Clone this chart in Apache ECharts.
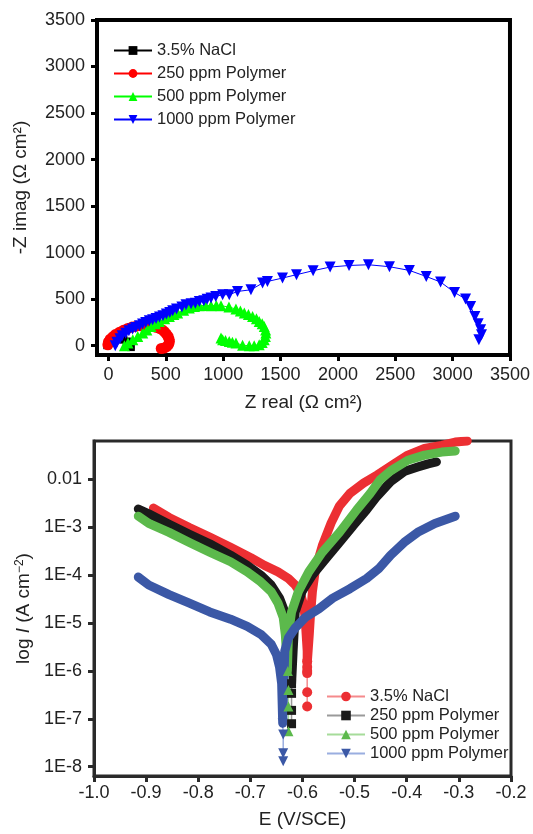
<!DOCTYPE html>
<html>
<head>
<meta charset="utf-8">
<script src="https://cdn.jsdelivr.net/npm/echarts@6/dist/echarts.min.js"></script>
<style>
body{margin:0;background:#fff;}
#mainA{width:533px;height:420px;}
#mainB{width:533px;height:414px;}
</style>
</head>
<body>
<div id="mainA"></div>
<div id="mainB"></div>
<script>
// Nyquist plot, [Z real, -Z imag] in ohm cm2
var nyqNacl = [[-10,5],[0,30],[20,55],[50,70],[90,75],[130,65],[160,45],[180,20],[190,0],[195,-15]];
var nyq250 = [[-5,10],[0,40],[15,70],[37,95],[60,120],[96,145],[130,165],[168,185],[205,200],[241,210],[280,215],[313,215],[350,212],[386,205],[415,198],[444,185],[470,170],[488,150],[505,125],[520,100],[528,70],[531,45],[525,15],[508,-10],[485,-25],[460,-30]];
var nyq500 = [[139,0],[170,30],[212,64],[255,100],[299,136],[335,170],[371,207],[410,235],[444,261],[490,290],[531,315],[570,335],[603,351],[655,380],[705,405],[750,420],[792,430],[845,432],[894,430],[940,432],[981,430],[1050,415],[1111,394],[1150,372],[1184,351],[1220,335],[1256,315],[1290,290],[1314,261],[1340,235],[1358,207],[1370,170],[1372,136],[1368,100],[1358,64],[1340,35],[1314,11],[1270,0],[1227,0],[1169,5],[1111,29],[1080,38],[1053,46],[1020,55],[995,64],[981,83]];
var nyq1000 = [[59,0],[74,36],[100,75],[119,107],[150,135],[178,161],[210,180],[237,196],[270,215],[297,232],[325,250],[356,268],[385,280],[415,293],[445,308],[475,321],[505,340],[534,357],[560,375],[593,393],[640,415],[676,440],[720,450],[757,457],[792,476],[831,482],[860,500],[894,512],[935,530],[995,548],[1053,548],[1125,583],[1242,601],[1343,673],[1386,690],[1517,727],[1639,763],[1784,806],[1932,845],[2097,862],[2266,870],[2449,849],[2623,809],[2770,744],[2895,684],[3017,572],[3113,502],[3157,422],[3194,315],[3223,236],[3244,172],[3252,118],[3229,64]];
var nyqTicks = [0,500,1000,1500,2000,2500,3000,3500];

// Tafel plot, [E (V/SCE), I (A cm-2)]
var tafNacl = [[-0.886,2.5e-3],[-0.856,1.6e-3],[-0.817,9.8e-4],[-0.778,6.2e-4],[-0.738,3.8e-4],[-0.699,2.3e-4],[-0.673,1.6e-4],[-0.647,1.17e-4],[-0.627,8.5e-5],[-0.614,6.2e-5],[-0.604,4.2e-5],[-0.598,2.4e-5],[-0.595,1.3e-5],[-0.593,5.8e-6],[-0.591,2.6e-6],[-0.591,1.4e-6],[-0.587,5.8e-6],[-0.585,1.3e-5],[-0.581,4.5e-5],[-0.575,1.35e-4],[-0.562,4.1e-4],[-0.545,1.23e-3],[-0.529,2.8e-3],[-0.509,5.1e-3],[-0.483,8.3e-3],[-0.457,1.23e-2],[-0.424,2.1e-2],[-0.398,3.2e-2],[-0.366,4.4e-2],[-0.333,5.1e-2],[-0.307,6.0e-2],[-0.284,6.3e-2]];
var tipNacl = [[-0.591,1.6e-6],[-0.591,1.2e-6],[-0.591,1.0e-6],[-0.591,9.0e-7],[-0.591,3.6e-7],[-0.591,1.8e-7]];
var taf250 = [[-0.915,2.4e-3],[-0.895,1.9e-3],[-0.856,1.15e-3],[-0.817,7.1e-4],[-0.778,4.5e-4],[-0.738,2.6e-4],[-0.706,1.6e-4],[-0.680,1.0e-4],[-0.660,6.2e-5],[-0.644,3.3e-5],[-0.634,1.7e-5],[-0.629,1.1e-5],[-0.624,5.8e-6],[-0.622,2.6e-6],[-0.621,1.0e-6],[-0.621,5.4e-7],[-0.618,2.6e-6],[-0.614,1.7e-5],[-0.601,4.5e-5],[-0.581,1.0e-4],[-0.555,2.2e-4],[-0.529,4.8e-4],[-0.503,1.07e-3],[-0.477,2.3e-3],[-0.457,4.4e-3],[-0.431,8.9e-3],[-0.405,1.45e-2],[-0.379,1.8e-2],[-0.359,2.1e-2],[-0.343,2.3e-2]];
var tip250 = [[-0.621,5.4e-7],[-0.621,3.4e-7],[-0.621,1.5e-7],[-0.621,7.9e-8]];
var taf500 = [[-0.915,1.7e-3],[-0.895,1.2e-3],[-0.856,7.8e-4],[-0.817,4.8e-4],[-0.778,3.0e-4],[-0.738,1.9e-4],[-0.706,1.17e-4],[-0.680,7.2e-5],[-0.660,4.5e-5],[-0.647,2.6e-5],[-0.637,1.3e-5],[-0.633,5.8e-6],[-0.631,2.6e-6],[-0.629,1.0e-6],[-0.627,5.8e-6],[-0.621,1.7e-5],[-0.608,4.5e-5],[-0.588,1.17e-4],[-0.562,3.0e-4],[-0.529,7.8e-4],[-0.496,2.3e-3],[-0.470,5.1e-3],[-0.451,9.8e-3],[-0.431,1.5e-2],[-0.398,2.5e-2],[-0.366,3.2e-2],[-0.333,3.7e-2],[-0.307,3.9e-2]];
var tip500 = [[-0.628,1.0e-6],[-0.627,4.0e-7],[-0.627,1.8e-7],[-0.627,5.5e-8]];
var taf1000 = [[-0.915,9.1e-5],[-0.895,6.2e-5],[-0.856,3.9e-5],[-0.817,2.6e-5],[-0.778,1.7e-5],[-0.738,1.2e-5],[-0.706,8.5e-6],[-0.680,5.8e-6],[-0.660,3.6e-6],[-0.650,2.2e-6],[-0.644,1.2e-6],[-0.640,5.4e-7],[-0.639,2.1e-7],[-0.638,8.1e-8],[-0.636,5.4e-7],[-0.634,2.6e-6],[-0.627,4.9e-6],[-0.614,7.9e-6],[-0.595,1.3e-5],[-0.568,2.0e-5],[-0.542,3.3e-5],[-0.509,5.2e-5],[-0.477,8.5e-5],[-0.454,1.35e-4],[-0.431,2.6e-4],[-0.405,4.8e-4],[-0.379,7.8e-4],[-0.346,1.2e-3],[-0.307,1.7e-3]];
var tip1000 = [[-0.638,8.1e-8],[-0.637,4.7e-8],[-0.637,1.9e-8],[-0.637,1.3e-8]];
var eTicks = [-1.0,-0.9,-0.8,-0.7,-0.6,-0.5,-0.4,-0.3,-0.2];
var iTicks = [1e-8,1e-7,1e-6,1e-5,1e-4,1e-3,1e-2];

var names = ['3.5% NaCl','250 ppm Polymer','500 ppm Polymer','1000 ppm Polymer'];
var font = 'Liberation Sans';

function nyqSeries(name, data, color, symbol, size, rot) {
    return {
        name: name, type: 'line', data: data,
        symbol: symbol, symbolSize: size, symbolRotate: rot || 0,
        showAllSymbol: true, animation: false,
        itemStyle: {color: color},
        lineStyle: {color: color, width: 1}
    };
}

var chartA = echarts.init(document.getElementById('mainA'));
chartA.setOption({
    backgroundColor: '#fff',
    textStyle: {fontFamily: font},
    grid: {left: 97, right: 22, top: 20, height: 335, show: true, borderColor: '#000', borderWidth: 4},
    legend: {
        data: names, orient: 'vertical', left: 108, top: 34,
        itemWidth: 38, itemHeight: 11, itemGap: 0,
        textStyle: {fontSize: 16.5, color: '#222', lineHeight: 23, fontFamily: font}
    },
    xAxis: {
        type: 'value', min: -100, max: 3500,
        name: 'Z real (Ω cm²)', nameLocation: 'middle', nameGap: 38,
        nameTextStyle: {fontSize: 19, color: '#222'},
        axisLine: {onZero: false, lineStyle: {color: '#000', width: 4}},
        axisTick: {inside: false, length: 6, lineStyle: {width: 3, color: '#000'}, customValues: nyqTicks},
        axisLabel: {fontSize: 18, color: '#222', margin: 11, customValues: nyqTicks,
            formatter: function (v) { return String(v); }},
        splitLine: {show: false}
    },
    yAxis: {
        type: 'value', min: -100, max: 3500,
        name: '-Z imag (Ω cm²)', nameLocation: 'middle', nameGap: 67,
        nameTextStyle: {fontSize: 19, color: '#222'},
        axisLine: {onZero: false, lineStyle: {color: '#000', width: 4}},
        axisTick: {inside: false, length: 6, lineStyle: {width: 3, color: '#000'}, customValues: nyqTicks},
        axisLabel: {fontSize: 18, color: '#222', margin: 12, customValues: nyqTicks,
            formatter: function (v) { return String(v); }},
        splitLine: {show: false}
    },
    series: [
        nyqSeries(names[0], nyqNacl, '#000000', 'rect', 8),
        nyqSeries(names[1], nyq250, '#ff0000', 'circle', 11),
        nyqSeries(names[2], nyq500, '#00ff00', 'triangle', 11),
        nyqSeries(names[3], nyq1000, '#0000ff', 'triangle', 11, 180)
    ]
});

function bandSeries(id, data, color) {
    return {
        name: id, type: 'line', data: data, symbol: 'none', silent: true, animation: false,
        lineStyle: {color: color, width: 9, cap: 'round', join: 'round'}
    };
}
function tipSeries(name, data, color, light, symbol, size, rot) {
    return {
        name: name, type: 'line', data: data, symbol: symbol, symbolSize: size,
        symbolRotate: rot || 0, showAllSymbol: true, animation: false,
        itemStyle: {color: color},
        lineStyle: {color: light, width: 1.5}
    };
}

var chartB = echarts.init(document.getElementById('mainB'));
chartB.setOption({
    backgroundColor: '#fff',
    textStyle: {fontFamily: font},
    grid: {left: 94, right: 22, top: 21, bottom: 53, show: true, borderColor: '#2a2a2a', borderWidth: 3},
    legend: {
        data: names, orient: 'vertical', left: 321, top: 262,
        itemWidth: 38, itemHeight: 12, itemGap: 0,
        textStyle: {fontSize: 16.5, color: '#222', lineHeight: 19, fontFamily: font}
    },
    xAxis: {
        type: 'value', min: -1.0, max: -0.2,
        name: 'E (V/SCE)', nameLocation: 'middle', nameGap: 34,
        nameTextStyle: {fontSize: 19, color: '#222'},
        axisLine: {onZero: false, lineStyle: {color: '#2a2a2a', width: 3}},
        axisTick: {inside: false, length: 6, lineStyle: {width: 3, color: '#2a2a2a'}, customValues: eTicks},
        axisLabel: {fontSize: 18, color: '#222', margin: 8, customValues: eTicks,
            formatter: function (v) { return v.toFixed(1); }},
        splitLine: {show: false}
    },
    yAxis: {
        type: 'log', logBase: 10, min: 6.4e-9, max: 0.063,
        name: '{a|log }{b|I}{a| (A cm}{c|−2}{a|)}', nameLocation: 'middle', nameGap: 55,
        nameTextStyle: {fontSize: 19, color: '#222', rich: {
            a: {fontSize: 19, color: '#222'},
            b: {fontSize: 19, color: '#222', fontStyle: 'italic'},
            c: {fontSize: 12, color: '#222', verticalAlign: 'top', padding: [0, 0, 8, 0]}
        }},
        axisLine: {onZero: false, lineStyle: {color: '#2a2a2a', width: 3}},
        axisTick: {inside: false, length: 6, lineStyle: {width: 3, color: '#2a2a2a'}, customValues: iTicks},
        axisLabel: {fontSize: 18, color: '#222', margin: 12, customValues: iTicks,
            formatter: function (v) {
                var e = Math.round(Math.log10(v));
                return e === -2 ? '0.01' : '1E' + e;
            }},
        splitLine: {show: false}
    },
    series: [
        tipSeries(names[0], tipNacl, '#ec2f33', '#f58a8c', 'circle', 10),
        bandSeries('nacl', tafNacl, '#ec2f33'),
        tipSeries(names[1], tip250, '#1a1a1a', '#9a9a9a', 'rect', 9),
        bandSeries('p250', taf250, '#1a1a1a'),
        tipSeries(names[2], tip500, '#5cb94c', '#a6dc9a', 'triangle', 10),
        bandSeries('p500', taf500, '#5cb94c'),
        tipSeries(names[3], tip1000, '#3b58a6', '#9aaee0', 'triangle', 10, 180),
        bandSeries('p1000', taf1000, '#3b58a6')
    ]
});
</script>
</body>
</html>
